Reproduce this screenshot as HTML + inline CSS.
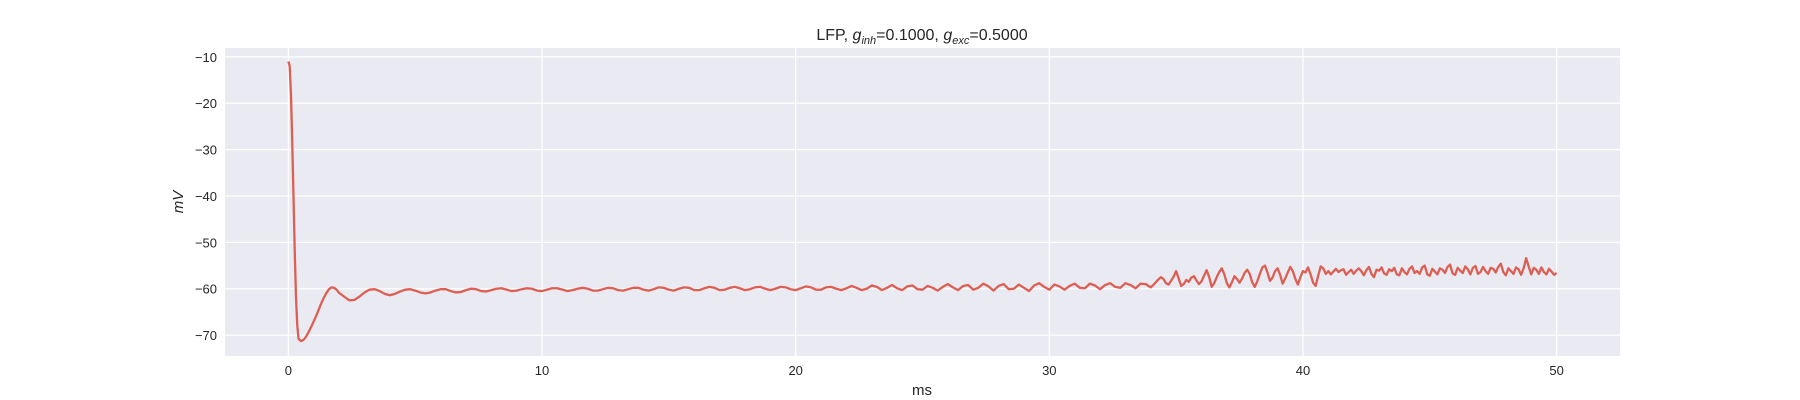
<!DOCTYPE html>
<html><head><meta charset="utf-8"><style>
html,body{margin:0;padding:0;background:#fff;}
svg{display:block;font-family:"Liberation Sans","DejaVu Sans",sans-serif;}
</style></head><body>
<svg id="chart" width="1800" height="400" viewBox="0 0 1800 400" xmlns="http://www.w3.org/2000/svg">
<rect x="225" y="48" width="1395" height="308" fill="#eaeaf2"/>
<g id="grid"></g>
<g id="ticks"></g>
<path id="line" fill="none" stroke="#dd5f54" stroke-width="2.3" stroke-linejoin="round"/>
<text x="922" y="40" text-anchor="middle" font-size="16" fill="#262626">LFP, <tspan font-style="italic">g</tspan><tspan font-style="italic" font-size="11" dy="4">inh</tspan><tspan dy="-4">=0.1000, </tspan><tspan font-style="italic">g</tspan><tspan font-style="italic" font-size="11" dy="4">exc</tspan><tspan dy="-4">=0.5000</tspan></text>
<text x="922" y="395" text-anchor="middle" font-size="15" fill="#262626">ms</text>
<text transform="translate(183,202) rotate(-90)" text-anchor="middle" font-size="15" font-style="italic" fill="#262626">mV</text>
</svg>
<script>
const xTicks=[0,10,20,30,40,50];
const yTicks=[-10,-20,-30,-40,-50,-60,-70];
const earlyTimes=[0,0.05,0.1,0.15,0.2,0.25,0.3,0.35,0.4,0.5,0.6,0.7,0.8,0.9,1.0,1.1,1.2,1.3,1.4,1.5,1.6,1.7,1.8,1.9,2.0];
const earlyValues=[-11,-12,-18,-28,-40,-52,-62,-68,-70.8,-71.3,-71,-70.3,-69.3,-68.2,-67,-65.8,-64.4,-63.1,-61.9,-60.9,-60.1,-59.7,-59.8,-60.2,-60.9];
const midStart=2.2, midStep=0.2;
const midValues=[
-61.7,-62.5,-62.4,-61.7,-60.8,-60.2,-60.1,-60.5,-61.1,-61.4,-61.1,-60.6,-60.2,-60.1,-60.4,-60.8,-61.0,-60.8,-60.4,-60.1,
-60.1,-60.5,-60.8,-60.7,-60.3,-60.0,-60.1,-60.5,-60.6,-60.3,-60.0,-59.9,-60.2,-60.5,-60.4,-60.1,-59.9,-60.0,-60.4,-60.5,
-60.2,-59.9,-59.9,-60.2,-60.5,-60.3,-60.0,-59.8,-60.0,-60.4,-60.4,-60.1,-59.8,-59.9,-60.3,-60.4,-60.1,-59.8,-59.8,-60.2,
-60.4,-60.1,-59.7,-59.8,-60.2,-60.4,-60.0,-59.7,-59.8,-60.3,-60.3,-59.9,-59.6,-59.8,-60.3,-60.2,-59.8,-59.6,-59.9,-60.3,
-60.1,-59.7,-59.6,-60.0,-60.3,-60.0,-59.6,-59.7,-60.1,-60.3,-59.9,-59.5,-59.7,-60.2,-60.2,-59.7,-59.6,-60.0,-60.3,-59.9,
-59.4,-59.8,-60.3,-60.0,-59.3,-59.6,-60.3,-59.8,-59.2,-59.9,-60.3,-59.5,-59.3,-60.1,-60.2,-59.4,-59.8,-60.4,-59.6,-59.0,
-59.7,-60.3,-59.4,-59.2,-60.2,-59.8,-58.9,-59.5,-60.4,-59.4,-59.0,-60.1,-60.0,-59.1,-59.8,-60.5,-59.3,-58.8,-59.6,-60.2,
-59.1,-59.5,-60.2,-59.4,-58.9,-59.8,-59.9,-58.9,-59.3,-60.1,-59.2,-58.8,-59.6,-59.8,-58.8,-59.2,-59.9,-58.9,-59.0,-59.7];
const noisyStart=34.1, noisyStep=0.1;
const noisyValues=[
-59.2,-58.6,-58.0,-57.5,-57.9,-58.8,-59.1,-58.3,-57.4,-56.2,-57.8,-59.4,-59.0,-58.1,-58.5,-57.6,-57.3,-58.2,-59.0,-58.4,
-57.2,-56.0,-57.4,-59.6,-58.8,-57.5,-56.4,-55.6,-56.9,-58.8,-59.7,-58.6,-57.3,-57.9,-58.7,-57.8,-56.6,-55.9,-56.8,-58.6,
-59.6,-58.4,-56.8,-55.4,-55.0,-56.5,-58.3,-57.6,-56.2,-55.6,-57.0,-58.9,-57.8,-56.5,-55.3,-56.2,-57.9,-59.1,-57.5,-56.2,
-56.5,-55.4,-56.9,-58.7,-59.4,-57.2,-55.2,-55.6,-56.8,-56.2,-56.9,-56.3,-55.7,-56.4,-56.0,-55.8,-57.0,-56.4,-55.9,-56.8,
-56.1,-55.6,-56.2,-57.1,-56.0,-55.3,-56.8,-57.5,-55.9,-56.1,-55.4,-56.7,-57.0,-55.8,-56.2,-55.5,-56.9,-57.1,-55.6,-56.4,
-56.9,-55.7,-55.2,-56.6,-56.2,-56.8,-55.4,-55.0,-56.9,-57.2,-55.7,-56.3,-56.9,-55.6,-55.9,-56.6,-55.3,-54.8,-56.7,-57.0,
-55.5,-56.1,-56.6,-55.2,-55.8,-56.9,-55.5,-55.1,-56.8,-56.4,-55.3,-56.2,-56.8,-55.5,-55.7,-56.5,-55.3,-54.6,-56.4,-57.1,
-55.6,-56.2,-56.8,-55.4,-55.8,-57.0,-55.6,-53.4,-55.2,-56.9,-55.5,-55.9,-56.8,-55.4,-56.4,-56.9,-55.7,-56.3,-57.0,-56.6];
const X0=225,X1=1620,Y0=48,Y1=356,xMin=-2.5,xMax=52.5,yMin=-74.5,yMax=-8.1;
const sx=v=>X0+(v-xMin)/(xMax-xMin)*(X1-X0);
const sy=v=>Y1-(v-yMin)/(yMax-yMin)*(Y1-Y0);
const NS="http://www.w3.org/2000/svg";
const grid=document.getElementById('grid'),ticks=document.getElementById('ticks');
function mk(tag,attrs,parent){const e=document.createElementNS(NS,tag);for(const k in attrs)e.setAttribute(k,attrs[k]);parent.appendChild(e);return e;}
xTicks.forEach(t=>{
  const l=mk('line',{x1:sx(t),x2:sx(t),y1:Y0,y2:Y1,stroke:'#fff','stroke-width':1.3},grid);
  
  
  const tx=mk('text',{x:sx(t),y:Y1+19,'text-anchor':'middle','font-size':13,fill:'#262626'},ticks);
  tx.textContent=String(t);
  
  
});
yTicks.forEach(t=>{
  const l=mk('line',{x1:X0,x2:X1,y1:sy(t),y2:sy(t),stroke:'#fff','stroke-width':1.3},grid);
  
  
  const tx=mk('text',{x:X0-8,y:sy(t)+5,'text-anchor':'end','font-size':13,fill:'#262626'},ticks);
  tx.textContent=String(t).replace('-','\u2212');
  
  
});
let d='';
earlyTimes.forEach((t,i)=>{d+=(i?'L':'M')+sx(t).toFixed(2)+','+sy(earlyValues[i]).toFixed(2);});
midValues.forEach((v,i)=>{const t=midStart+i*midStep;d+='L'+sx(t).toFixed(2)+','+sy(v).toFixed(2);});
noisyValues.forEach((v,i)=>{const t=Math.min(noisyStart+i*noisyStep,50);d+='L'+sx(t).toFixed(2)+','+sy(v).toFixed(2);});
document.getElementById('line').setAttribute('d',d);
</script>
</body></html>
